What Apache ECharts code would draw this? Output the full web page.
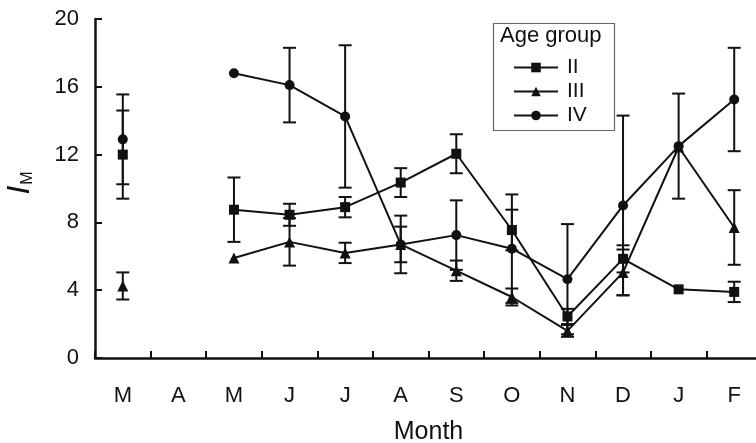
<!DOCTYPE html>
<html>
<head>
<meta charset="utf-8">
<script src="https://cdn.jsdelivr.net/npm/echarts@6/dist/echarts.min.js"></script>
<style>
html,body{margin:0;padding:0;background:#fff;}
#chart{width:756px;height:443px;}
</style>
</head>
<body>
<div id="chart"></div>
<script>
// Categories (months, March to February)
var monthKeys = ['Mar','Apr','May','Jun','Jul','Aug','Sep','Oct','Nov','Dec','Jan','Feb'];
var monthLabels = ['M','A','M','J','J','A','S','O','N','D','J','F'];
var yTicks = [0, 4, 8, 12, 16, 20];

// Age group II
var groupII = [12.0, null, 8.75, 8.45, 8.9, 10.35, 12.05, 7.55, 2.45, 5.85, 4.05, 3.9];
var errII   = [2.6, null, 1.9, 0.65, 0.6, 0.85, 1.15, 1.2, 0.45, 0.8, null, 0.6];
// Age group III
var groupIII = [4.25, null, 5.9, 6.85, 6.2, 6.7, 5.15, 3.6, 1.6, 5.05, 12.45, 7.7];
var errIII   = [0.8, null, null, 1.4, 0.6, 1.05, 0.6, 0.5, 0.35, 1.35, null, 2.2];
// Age group IV
var groupIV = [12.9, null, 16.8, 16.1, 14.25, 6.7, 7.25, 6.45, 4.65, 9.0, 12.5, 15.25];
var errIV   = [2.65, null, null, 2.2, 4.2, 1.7, 2.05, 3.2, 3.25, 5.3, 3.1, 3.05];

var groupNames = ['II', 'III', 'IV'];

function errData(vals, errs) {
  var out = [];
  for (var i = 0; i < vals.length; i++) {
    if (vals[i] != null && errs[i] != null) out.push([i, vals[i] - errs[i], vals[i] + errs[i]]);
  }
  return out;
}

function renderErr(params, api) {
  var lo = api.coord([api.value(0), api.value(1)]);
  var hi = api.coord([api.value(0), api.value(2)]);
  var hw = 6.5;
  var st = {stroke: '#111', lineWidth: 2};
  return {
    type: 'group',
    children: [
      {type: 'line', shape: {x1: lo[0], y1: lo[1], x2: hi[0], y2: hi[1]}, style: st},
      {type: 'line', shape: {x1: lo[0] - hw, y1: lo[1], x2: lo[0] + hw, y2: lo[1]}, style: st},
      {type: 'line', shape: {x1: hi[0] - hw, y1: hi[1], x2: hi[0] + hw, y2: hi[1]}, style: st}
    ]
  };
}

var FONT = '"Liberation Sans", Arial, Helvetica, sans-serif';
var chart = echarts.init(document.getElementById('chart'), null, {renderer: 'canvas'});

function lineSeries(name, data, symbol, size) {
  return {
    type: 'line', name: name, data: data, symbol: symbol, symbolSize: size,
    showAllSymbol: true, connectNulls: false, z: 3,
    lineStyle: {color: '#111', width: 2},
    itemStyle: {color: '#111', borderWidth: 0},
    emphasis: {disabled: true}
  };
}

var option = {
  animation: false,
  backgroundColor: '#fff',
  grid: {left: 95, top: 19, width: 667, height: 339, containLabel: false, outerBoundsMode: 'none'},
  xAxis: {
    type: 'category', data: monthKeys, boundaryGap: true,
    name: 'Month', nameLocation: 'middle', nameGap: 62,
    nameTextStyle: {fontFamily: FONT, fontSize: 25, color: '#111'},
    axisLine: {lineStyle: {color: '#111', width: 2.5}},
    axisTick: {show: true, inside: true, length: 7, interval: 0, lineStyle: {color: '#111', width: 2}},
    axisLabel: {margin: 27, fontFamily: FONT, fontSize: 22, color: '#111', interval: 0,
      formatter: function (v, i) { return monthLabels[i]; }},
    splitLine: {show: false}
  },
  yAxis: {
    type: 'value', min: 0, max: 20, interval: 4,
    axisLine: {show: true, lineStyle: {color: '#111', width: 2.5}},
    axisTick: {show: true, inside: true, length: 7, lineStyle: {color: '#111', width: 2}},
    axisLabel: {margin: 16, fontFamily: FONT, fontSize: 22, color: '#111',
      formatter: function (v) { return yTicks.indexOf(v) >= 0 ? String(v) : ''; }},
    splitLine: {show: false}
  },
  legend: {
    data: groupNames, orient: 'vertical', left: 508, top: 52,
    itemWidth: 44, itemHeight: 12, itemGap: 3,
    textStyle: {fontFamily: FONT, fontSize: 21, color: '#111', padding: [0, 0, 0, 4]},
    inactiveColor: '#111', selectedMode: false
  },
  graphic: [
    {type: 'rect', left: 491, top: 21, shape: {width: 121, height: 107},
      style: {fill: 'none', stroke: '#666', lineWidth: 1.2}, z: 10},
    {type: 'text', left: 500, top: 25,
      style: {text: 'Age group', fontFamily: FONT, fontSize: 22, fill: '#111'}, z: 10},
    {type: 'text', x: 20, y: 183, rotation: Math.PI / 2,
      style: {text: '{i|I}{s|M}', align: 'center', verticalAlign: 'middle',
        rich: {
          i: {fontFamily: FONT, fontStyle: 'italic', fontSize: 32, fill: '#111'},
          s: {fontFamily: FONT, fontSize: 16, fill: '#111', verticalAlign: 'bottom', padding: [10, 0, 0, 1]}
        }}, z: 10}
  ],
  series: [
    lineSeries('II', groupII, 'rect', 10),
    lineSeries('III', groupIII, 'triangle', 11),
    lineSeries('IV', groupIV, 'circle', 10),
    {type: 'custom', name: 'errII', data: errData(groupII, errII), renderItem: renderErr, z: 2, silent: true},
    {type: 'custom', name: 'errIII', data: errData(groupIII, errIII), renderItem: renderErr, z: 2, silent: true},
    {type: 'custom', name: 'errIV', data: errData(groupIV, errIV), renderItem: renderErr, z: 2, silent: true}
  ]
};
chart.setOption(option);
</script>
</body>
</html>
